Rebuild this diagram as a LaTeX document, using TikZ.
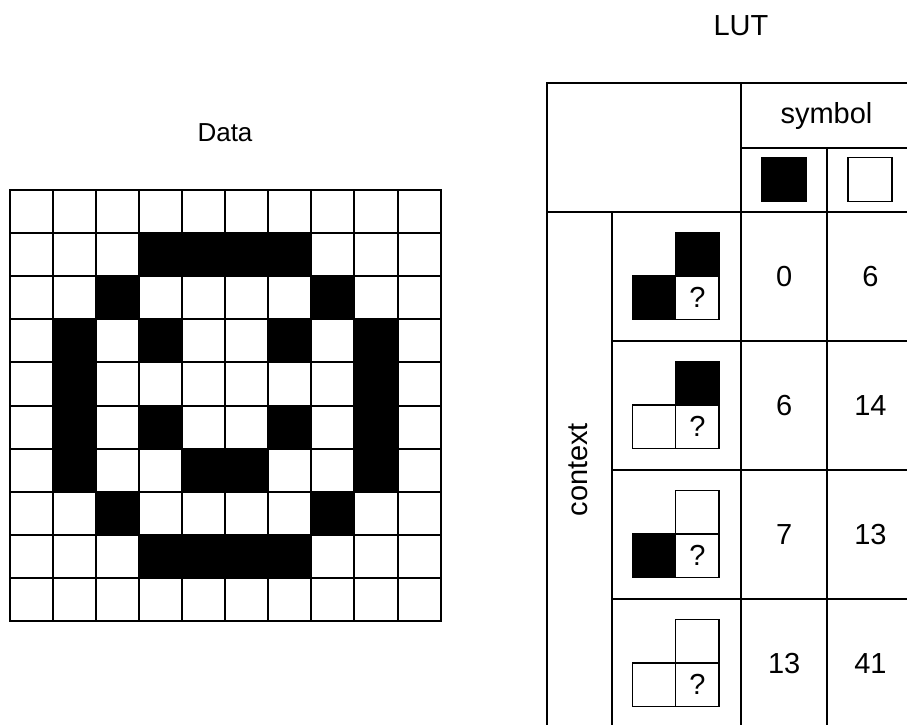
\documentclass[tikz,border=0pt]{standalone}
\usepackage{fontspec}
\setmainfont{Liberation Sans}
\begin{document}
\begin{tikzpicture}[x=1pt,y=-1pt,
  gridline/.style={line width=2pt, line cap=rect},
  tabline/.style={line width=2pt, line cap=rect},
  sq/.style={draw=black, line width=1.5pt},
  lbl/.style={font=\fontsize{29}{34}\selectfont, inner sep=0pt},
  smalllbl/.style={font=\fontsize{26}{31}\selectfont, inner sep=0pt}]
\useasboundingbox (0,0) rectangle (907,725);
\clip (0,0) rectangle (907,725);
% ---------------- Data grid ----------------
\def\cs{43.12}
\foreach \r/\c in {1/3,1/4,1/5,1/6,2/2,2/7,3/1,3/3,3/6,3/8,4/1,4/8,5/1,5/3,5/6,5/8,6/1,6/4,6/5,6/8,7/2,7/7,8/3,8/4,8/5,8/6}
  \fill[black] ({9.5+\c*\cs},{190+\r*\cs}) rectangle ++(\cs,\cs);
\foreach \i in {0,...,10}{
  \draw[gridline] ({9.5+\i*\cs},190) -- ({9.5+\i*\cs},{190+10*\cs});
  \draw[gridline] (9.5,{190+\i*\cs}) -- ({9.5+10*\cs},{190+\i*\cs});
}
\node[smalllbl] (data) at (225,133) {Data};
% ---------------- LUT table ----------------
\node[lbl] (lut) at (741,26) {LUT};
\draw[tabline] (547.3,727.7) -- (547.3,83.3) -- (913.6,83.3) -- (913.6,727.7) -- cycle;
\draw[tabline] (741,83.3) -- (741,727.7);
\draw[tabline] (827.3,148.3) -- (827.3,727.7);
\draw[tabline] (741,148.3) -- (913.6,148.3);
\draw[tabline] (547.3,211.7) -- (913.6,211.7);
\draw[tabline] (611.7,211.7) -- (611.7,727.7);
\foreach \y in {340.7,469.7,598.7}
  \draw[tabline] (611.7,\y) -- (913.6,\y);
\node[lbl] (symbol) at (826.5,115.8) {symbol};
\node[sq, fill=black, minimum size=44pt, inner sep=0pt] (symblack) at (784,179.5) {};
\node[sq, fill=white, minimum size=44pt, inner sep=0pt, line width=1.8pt] (symwhite) at (869.8,179.5) {};
\node[lbl, rotate=90] (context) at (578,469.7) {context};
\def\s{43.4}
\foreach \k/\tc/\lc/\va/\vb in {0/black/black/0/6, 1/black/white/6/14, 2/white/black/7/13, 3/white/white/13/41}{
  \pgfmathsetmacro{\T}{211.7+\k*129}
  \filldraw[sq, fill=\tc] (675.7,{\T+21}) rectangle ++(\s,\s);
  \filldraw[sq, fill=\lc] (632.3,{\T+21+\s}) rectangle ++(\s,\s);
  \draw[sq] (675.7,{\T+21+\s}) rectangle ++(\s,\s);
  \node[lbl] (q\k) at ({675.7+\s/2},{\T+21+1.5*\s}) {?};
  \node[lbl] (a\k) at (784.2,{\T+64.5}) {\va};
  \node[lbl] (b\k) at (870.4,{\T+64.5}) {\vb};
}
\end{tikzpicture}
\end{document}
